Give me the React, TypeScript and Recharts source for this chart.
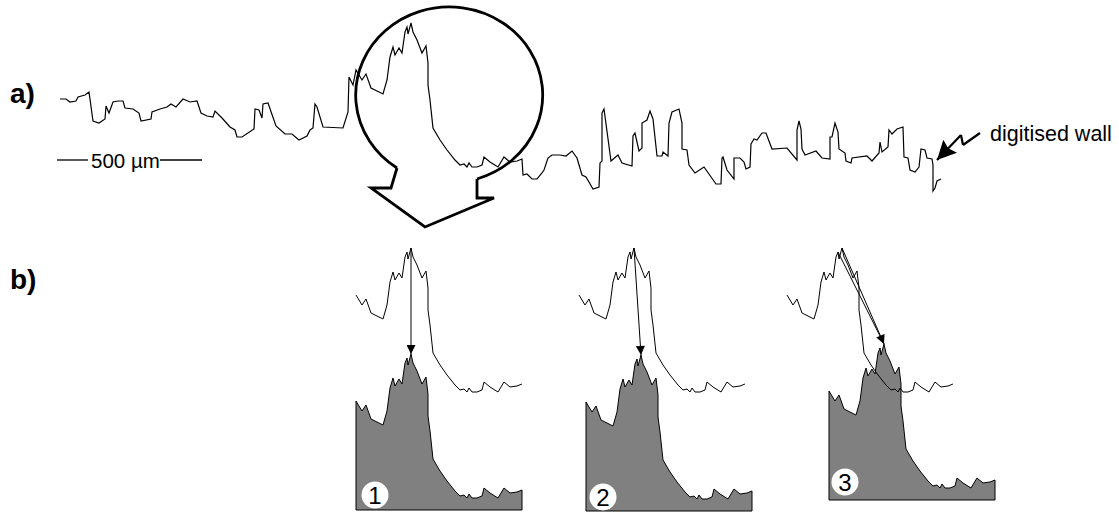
import React from 'react';
import { ComposedChart, Line, Area, XAxis, YAxis, ReferenceLine, ReferenceDot } from 'recharts';

const W = 1119;
const H = 513;
const FONT = '"Liberation Sans", Arial, Helvetica, sans-serif';

const wallX = [60, 66, 70, 76, 78, 85, 89, 93, 99, 105, 106, 109, 113, 118, 123, 125, 133, 139, 141, 151, 152, 160, 167, 171, 176, 183, 190, 197, 201, 207, 213, 215, 222, 230, 235, 237, 242, 254, 255, 259, 262, 263, 268, 276, 285, 292, 299, 307, 310, 313, 315, 317, 323, 343, 348, 349, 353, 356, 359, 362, 366, 371, 383, 387, 390, 393, 395, 399, 402, 405, 407, 408, 411, 413, 417, 422, 426, 428, 428, 430, 433, 440, 447, 455, 460, 464, 467, 469, 472, 477, 482, 484, 490, 498, 504, 510, 517, 522, 523, 527, 532, 537, 542, 544, 548, 552, 560, 566, 572, 577, 582, 586, 593, 599, 600, 602, 602, 604, 611, 618, 622, 632, 633, 635, 639, 642, 642, 647, 650, 653, 657, 662, 663, 668, 669, 672, 679, 682, 682, 687, 689, 695, 704, 716, 721, 722, 723, 727, 734, 734, 740, 744, 746, 750, 751, 754, 757, 762, 766, 772, 787, 797, 797, 799, 801, 802, 805, 816, 822, 830, 830, 832, 835, 838, 839, 845, 846, 851, 852, 867, 872, 879, 880, 882, 888, 889, 892, 897, 903, 904, 908, 910, 915, 919, 921, 925, 927, 932, 933, 933, 935, 937, 941];
const wallY = [99, 99, 102, 101, 97, 95, 92, 121, 123, 119, 106, 113, 102, 101, 101, 108, 109, 113, 121, 119, 112, 109, 107, 104, 107, 99, 102, 101, 113, 116, 117, 111, 118, 127, 130, 137, 137, 129, 109, 110, 118, 104, 103, 126, 134, 134, 140, 136, 130, 128, 104, 107, 127, 128, 112, 77, 85, 70, 75, 80, 74, 88, 94, 80, 57, 47, 55, 48, 53, 32, 27, 34, 23, 32, 40, 53, 46, 63, 85, 100, 128, 140, 150, 160, 165, 164, 167, 163, 167, 167, 165, 157, 162, 167, 157, 162, 161, 159, 175, 174, 179, 179, 173, 170, 158, 155, 155, 156, 151, 158, 175, 177, 189, 187, 163, 161, 113, 109, 161, 155, 163, 166, 136, 133, 151, 148, 123, 120, 111, 119, 156, 156, 152, 156, 123, 112, 109, 123, 149, 150, 165, 173, 167, 184, 184, 158, 157, 170, 179, 158, 158, 162, 169, 167, 144, 139, 140, 133, 133, 149, 148, 160, 130, 121, 129, 149, 155, 151, 158, 159, 137, 137, 123, 132, 149, 153, 161, 163, 158, 156, 161, 153, 142, 152, 147, 130, 134, 129, 127, 157, 158, 170, 172, 167, 149, 150, 158, 159, 165, 191, 188, 181, 179];

// Section of the wall that is enlarged in b)
const peakFromX = 356;
const peakToX = 522;
const fillBaseY = 179;

// Copies in b): shift of the upper trace, extra shift of the filled copy
const panelShiftX = [0, 223, 431];
const panelShiftY = [225, 225, 225];
const fillShiftX = [0, 7, 42];
const fillShiftY = [106, 107, 96];
const panelLabels = ['1', '2', '3'];
const badgeX = [375, 603, 845];
const badgeY = [495, 497, 482];

// Magnifying lens: ellipse and the arrow leaving it
const lensCX = 450.5;
const lensCY = 95;
const lensRX = 93.5;
const lensRY = 88;
const lensArrowX = [397, 391, 371, 425, 494, 477, 477];
const lensArrowY = [168, 188, 188, 227, 198, 198, 179];

// "digitised wall" pointer
const pointerX = [980, 963, 961, 937];
const pointerY = [133, 145, 135, 160];

// 500 µm scale bar
const scaleBarX = [57, 88, 160, 202];
const scaleBarY = 160;

// Text labels
const textItems = [
  { text: 'a)', x: 10, y: 103, size: 28, bold: true },
  { text: 'b)', x: 10, y: 289, size: 28, bold: true },
  { text: '500 µm', x: 91, y: 168, size: 20.5, bold: false },
  { text: 'digitised wall', x: 990, y: 141, size: 21.5, bold: false },
];

const wall = wallX.map((x, i) => ({ x, y: wallY[i] }));
const iFrom = wallX.indexOf(peakFromX);
const iTo = wallX.indexOf(peakToX);
const peak = wall.slice(iFrom, iTo + 1);
const topIdx = peak.reduce((b, p, i) => (p.y < peak[b].y ? i : b), 0);
const top = peak[topIdx];
const second = peak[topIdx - 2];

const panels = panelShiftX.map((dx, k) => {
  const dy = panelShiftY[k];
  const fx = dx + fillShiftX[k];
  const fy = dy + fillShiftY[k];
  const base = fillBaseY + fy;
  const upper = peak.map((p) => ({ x: p.x + dx, y: p.y + dy }));
  const fill = [
    { x: peak[0].x + fx, y: base },
    ...peak.map((p) => ({ x: p.x + fx, y: p.y + fy })),
    { x: peak[peak.length - 1].x + fx, y: base },
  ];
  return {
    upper,
    fill,
    base,
    x0: peak[0].x + fx,
    x1: peak[peak.length - 1].x + fx,
    arrowFrom: { x: top.x + dx, y: top.y + dy },
    arrowFrom2: { x: second.x + dx, y: second.y + dy },
    arrowTo: { x: top.x + fx, y: top.y + fy },
  };
});

const lensArrow = lensArrowX.map((x, i) => ({ x, y: lensArrowY[i] }));
const pointer = pointerX.map((x, i) => ({ x, y: pointerY[i] }));

const pxX = W / W; // one data unit per pixel (domain width / plot width)
const pxY = H / H;

const LensShape = (props: any) => {
  const { cx, cy } = props;
  const sx = cx + (lensArrowX[lensArrowX.length - 1] - lensCX) * pxX;
  const sy = cy + (lensArrowY[lensArrowY.length - 1] - lensCY) * pxY;
  const ex = cx + (lensArrowX[0] - lensCX) * pxX;
  const ey = cy + (lensArrowY[0] - lensCY) * pxY;
  return (
    <path
      d={`M ${sx} ${sy} A ${lensRX * pxX} ${lensRY * pxY} 0 1 0 ${ex} ${ey}`}
      fill="none"
      stroke="#000"
      strokeWidth={2.8}
    />
  );
};

const arrowShape = (marker: string, width: number) => (props: any) => (
  <line
    x1={props.x1}
    y1={props.y1}
    x2={props.x2}
    y2={props.y2}
    stroke="#000"
    strokeWidth={width}
    markerEnd={marker ? `url(#${marker})` : undefined}
  />
);

const Badge = (label: string) => (props: any) => (
  <g>
    <circle cx={props.cx} cy={props.cy} r={13.5} fill="#fff" />
    <text
      x={props.cx}
      y={props.cy + 8.5}
      textAnchor="middle"
      fontFamily={FONT}
      fontSize={24}
      fill="#000"
    >
      {label}
    </text>
  </g>
);

const TextShape = (t: (typeof textItems)[number]) => (props: any) => (
  <text
    x={props.cx}
    y={props.cy}
    fontFamily={FONT}
    fontSize={t.size}
    fontWeight={t.bold ? 'bold' : 'normal'}
    fill="#000"
  >
    {t.text}
  </text>
);

export default function App() {
  return (
    <div style={{ position: 'absolute', left: 0, top: 0, width: W, height: H, background: '#fff' }}>
      <svg width={0} height={0} style={{ position: 'absolute' }}>
        <defs>
          <marker id="smallHead" viewBox="0 0 10 10" refX="10" refY="5" markerWidth="10" markerHeight="9" markerUnits="userSpaceOnUse" orient="auto">
            <path d="M0,0 L10,5 L0,10 z" fill="#000" />
          </marker>
          <marker id="bigHead" viewBox="0 0 10 10" refX="10" refY="5" markerWidth="22" markerHeight="19" markerUnits="userSpaceOnUse" orient="auto">
            <path d="M0,0 L10,5 L0,10 L1.5,5 z" fill="#000" />
          </marker>
        </defs>
      </svg>
      <ComposedChart width={W} height={H} margin={{ top: 0, right: 0, bottom: 0, left: 0 }}>
        <XAxis type="number" dataKey="x" domain={[0, W]} hide allowDataOverflow />
        <YAxis type="number" dataKey="y" domain={[0, H]} reversed hide allowDataOverflow />

        {panels.map((p, k) => (
          <Area
            key={`fill${k}`}
            data={p.fill}
            dataKey="y"
            type="linear"
            baseValue={p.base}
            stroke="#000"
            strokeWidth={1}
            fill="#808080"
            fillOpacity={1}
            isAnimationActive={false}
            dot={false}
            activeDot={false}
          />
        ))}

        <Line data={wall} dataKey="y" type="linear" stroke="#000" strokeWidth={1.2} dot={false} activeDot={false} isAnimationActive={false} />
        {panels.map((p, k) => (
          <Line
            key={`upper${k}`}
            data={p.upper}
            dataKey="y"
            type="linear"
            stroke="#000"
            strokeWidth={1}
            dot={false}
            activeDot={false}
            isAnimationActive={false}
          />
        ))}
        <Line data={lensArrow} dataKey="y" type="linear" stroke="#000" strokeWidth={2.8} dot={false} activeDot={false} isAnimationActive={false} />

        {panels.map((p, k) => (
          <ReferenceLine key={`bottom${k}`} segment={[{ x: p.x0, y: p.base }, { x: p.x1, y: p.base }]} stroke="#000" strokeWidth={1.2} />
        ))}
        {panels.map((p, k) => (
          <ReferenceLine key={`arrow${k}`} segment={[p.arrowFrom, p.arrowTo]} shape={arrowShape('smallHead', 1)} />
        ))}
        <ReferenceLine segment={[panels[2].arrowFrom2, panels[2].arrowTo]} shape={arrowShape('', 1)} />

        {pointer.slice(0, -1).map((p, i) => (
          <ReferenceLine
            key={`ptr${i}`}
            segment={[p, pointer[i + 1]]}
            shape={arrowShape(i === pointer.length - 2 ? 'bigHead' : '', 2.2)}
          />
        ))}

        <ReferenceLine segment={[{ x: scaleBarX[0], y: scaleBarY }, { x: scaleBarX[1], y: scaleBarY }]} stroke="#000" strokeWidth={1.3} />
        <ReferenceLine segment={[{ x: scaleBarX[2], y: scaleBarY }, { x: scaleBarX[3], y: scaleBarY }]} stroke="#000" strokeWidth={1.3} />

        <ReferenceDot x={lensCX} y={lensCY} r={1} shape={LensShape} />

        {panels.map((p, k) => (
          <ReferenceDot key={`badge${k}`} x={badgeX[k]} y={badgeY[k]} r={13} shape={Badge(panelLabels[k])} />
        ))}
        {textItems.map((t, i) => (
          <ReferenceDot key={`txt${i}`} x={t.x} y={t.y} r={1} shape={TextShape(t)} />
        ))}
      </ComposedChart>
    </div>
  );
}
